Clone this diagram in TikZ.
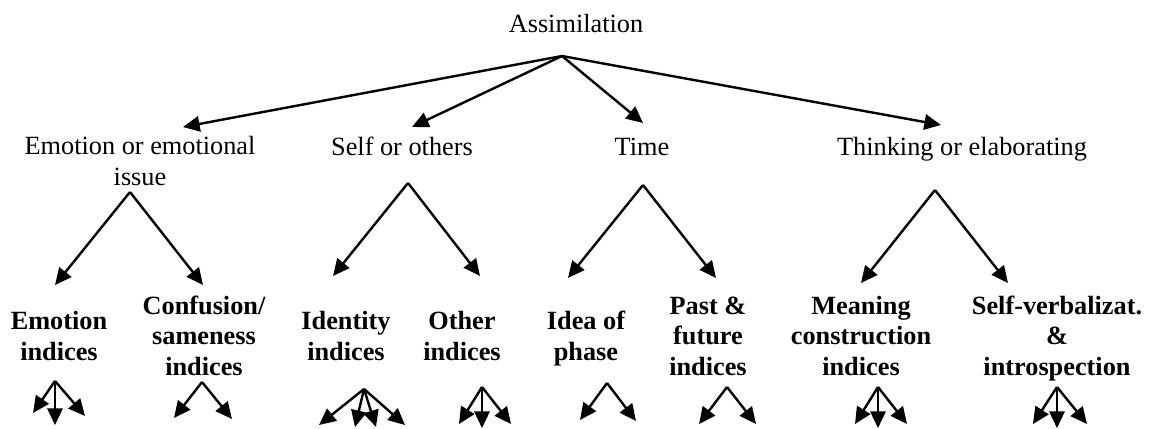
\documentclass[tikz,border=0pt]{standalone}
\usepackage{fontspec}
\setmainfont{Liberation Serif}
\usetikzlibrary{arrows.meta}
\tikzset{
  lbl/.style={font=\fontsize{12}{13.7}\selectfont, align=center, inner sep=0pt, anchor=base},
  idx/.style={lbl, font=\fontsize{12}{13.7}\selectfont\bfseries},
  arr/.style={black, line width=1.1pt, -{Triangle[length=7.6pt,width=7pt]}}
}
\begin{document}
\begin{tikzpicture}[x=0.4563pt, y=-0.4563pt]
        \useasboundingbox (0,0) rectangle (1157,428);
        % top
        \node[lbl] (assim) at (576,32) {Assimilation};
        \coordinate (root) at (562,56);
        % first level
        \node[lbl] (emo) at (140,185) {Emotion or emotional\\issue};
        \node[lbl] (self) at (402,155) {Self or others};
        \node[lbl] (time) at (642,155) {Time};
        \node[lbl] (think) at (962,155) {Thinking or elaborating};
        \coordinate (emoIn) at (183,127);
        \coordinate (selfIn) at (412,127);
        \coordinate (timeIn) at (643,123);
        \coordinate (thinkIn) at (941,125);
        \draw[arr] (root) -- (emoIn);
        \draw[arr] (root) -- (selfIn);
        \draw[arr] (root) -- (timeIn);
        \draw[arr] (root) -- (thinkIn);
        \coordinate (emoOut) at (130,192);
        \coordinate (selfOut) at (408,183);
        \coordinate (timeOut) at (643,185);
        \coordinate (thinkOut) at (935,190);
        % second level
        \node[idx] (emoIdx) at (59,360) {Emotion\\indices};
        \node[idx] (confIdx) at (204,375) {Confusion/\\sameness\\indices};
        \node[idx] (identIdx) at (346,360) {Identity\\indices};
        \node[idx] (otherIdx) at (462,360) {Other\\indices};
        \node[idx] (phase) at (586,360) {Idea of\\phase};
        \node[idx] (pastIdx) at (708,375) {Past \&\\future\\indices};
        \node[idx] (meanIdx) at (861,375) {Meaning\\construction\\indices};
        \node[idx] (verbal) at (1057,375) {Self-verbalizat.\\\&\\introspection};
        \coordinate (emoIdxIn) at (55,285);
        \coordinate (confIdxIn) at (203,285);
        \coordinate (identIdxIn) at (333,276);
        \coordinate (otherIdxIn) at (480,276);
        \coordinate (phaseIn) at (568,278);
        \coordinate (pastIdxIn) at (716,278);
        \coordinate (meanIdxIn) at (861,283);
        \coordinate (verbalIn) at (1008,283);
        \draw[arr] (emoOut) -- (emoIdxIn);
        \draw[arr] (emoOut) -- (confIdxIn);
        \draw[arr] (selfOut) -- (identIdxIn);
        \draw[arr] (selfOut) -- (otherIdxIn);
        \draw[arr] (timeOut) -- (phaseIn);
        \draw[arr] (timeOut) -- (pastIdxIn);
        \draw[arr] (thinkOut) -- (meanIdxIn);
        \draw[arr] (thinkOut) -- (verbalIn);
        % third level
        \foreach \name/\x/\y/\tips in {
            emoIdx/55/381/{33/413,55/425,85/416},
            confIdx/202/382/{174/418,232/419},
            identIdx/364/389/{319/425,355/427,376/427,405/425},
            otherIdx/482/387/{459/424,482/428,511/424},
            phase/607/383/{580/420,636/421},
            pastIdx/727/387/{699/424,756/424},
            meanIdx/878/387/{855/424,878/428,907/424},
            verbal/1057/387/{1033/424,1057/428,1087/424}}{
            \coordinate (\name Out) at (\x,\y);
            \foreach \tx/\ty [count=\i] in \tips {
                \coordinate (\name Tip\i) at (\tx,\ty);
                \draw[arr] (\name Out) -- (\name Tip\i);
            }
        }
\end{tikzpicture}
\end{document}
